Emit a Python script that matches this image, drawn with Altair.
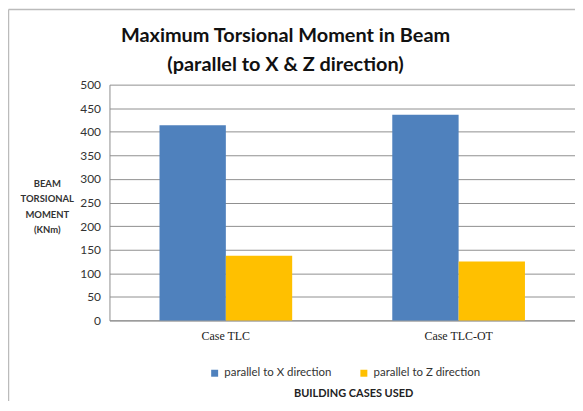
import altair as alt
import pandas as pd

cases = ["Case TLC", "Case TLC-OT"]
series = ["parallel to X direction", "parallel to Z direction"]
x_values = [414, 436]
z_values = [137, 125]
y_ticks = [0, 50, 100, 150, 200, 250, 300, 350, 400, 450, 500]
colors = ["#4F81BD", "#FFC000"]

rows = []
for i, c in enumerate(cases):
    rows.append({"case": c, "series": series[0], "value": x_values[i]})
    rows.append({"case": c, "series": series[1], "value": z_values[i]})
df = pd.DataFrame(rows)

sans = "Lato"

bars = alt.Chart(df).mark_bar().encode(
    x=alt.X(
        "case:N",
        sort=cases,
        scale=alt.Scale(paddingInner=0.43, paddingOuter=0.215),
        axis=alt.Axis(
            title="BUILDING CASES USED",
            labelAngle=0,
            labelFont="Liberation Serif",
            labelFontSize=12,
            labelColor="#222222",
            labelPadding=10,
            ticks=False,
            domainColor="#8c8c8c",
            titleFont=sans,
            titleFontSize=11,
            titleFontWeight="bold",
            titleColor="#222222",
            titleAnchor="start",
            titleAlign="center",
            titleBaseline="middle",
            titleX=245,
            titleY=74,
        ),
    ),
    xOffset=alt.XOffset("series:N", sort=series, scale=alt.Scale(paddingInner=0, paddingOuter=0)),
    y=alt.Y(
        "value:Q",
        scale=alt.Scale(domain=[0, 500], nice=False),
        axis=alt.Axis(
            values=y_ticks,
            title=["BEAM", "TORSIONAL", "MOMENT", "(KNm)"],
            titleAngle=0,
            titleFont=sans,
            titleFontSize=9.5,
            titleFontWeight="bold",
            titleColor="#333333",
            titleAlign="center",
            titleBaseline="middle",
            titleLineHeight=15.7,
            titleX=-63,
            titleY=99,
            labelFont=sans,
            labelFontSize=12,
            labelColor="#333333",
            labelPadding=9,
            ticks=False,
            domainColor="#8c8c8c",
            gridColor="#8f8f8f",
            gridWidth=1,
        ),
    ),
    color=alt.Color(
        "series:N",
        sort=series,
        scale=alt.Scale(domain=series, range=colors),
        legend=alt.Legend(
            title=None,
            orient="none",
            direction="horizontal",
            legendX=100,
            legendY=284,
            symbolType="square",
            symbolSize=49,
            symbolStrokeWidth=0,
            labelFont=sans,
            labelFontSize=11.5,
            labelColor="#333333",
            labelOffset=4,
            columnPadding=26,
        ),
    ),
)

frame_left = alt.Chart(alt.Data(values=[{}])).mark_rule(color="#bbbbbb", strokeWidth=1.5).encode(
    x=alt.value(-101.5), y=alt.value(-75.5), y2=alt.value(330)
)
frame_top = alt.Chart(alt.Data(values=[{}])).mark_rule(color="#bbbbbb", strokeWidth=1.5).encode(
    x=alt.value(-101.5), x2=alt.value(470), y=alt.value(-75.5)
)

chart = alt.layer(frame_left, frame_top, bars).properties(
    width=468,
    height=237,
    autosize=alt.AutoSizeParams(type="none"),
    padding={"left": 102, "top": 76, "right": 0, "bottom": 80},
    title=alt.TitleParams(
        text=["Maximum Torsional Moment in Beam", "(parallel to X & Z direction)"],
        font=sans,
        fontSize=20,
        fontWeight="bold",
        color="#111111",
        lineHeight=30,
        anchor="middle",
        dx=-57,
        dy=75,
        offset=8,
    ),
).configure_view(stroke=None)

chart.save("out.html", embed_options={"renderer": "svg", "actions": False})
